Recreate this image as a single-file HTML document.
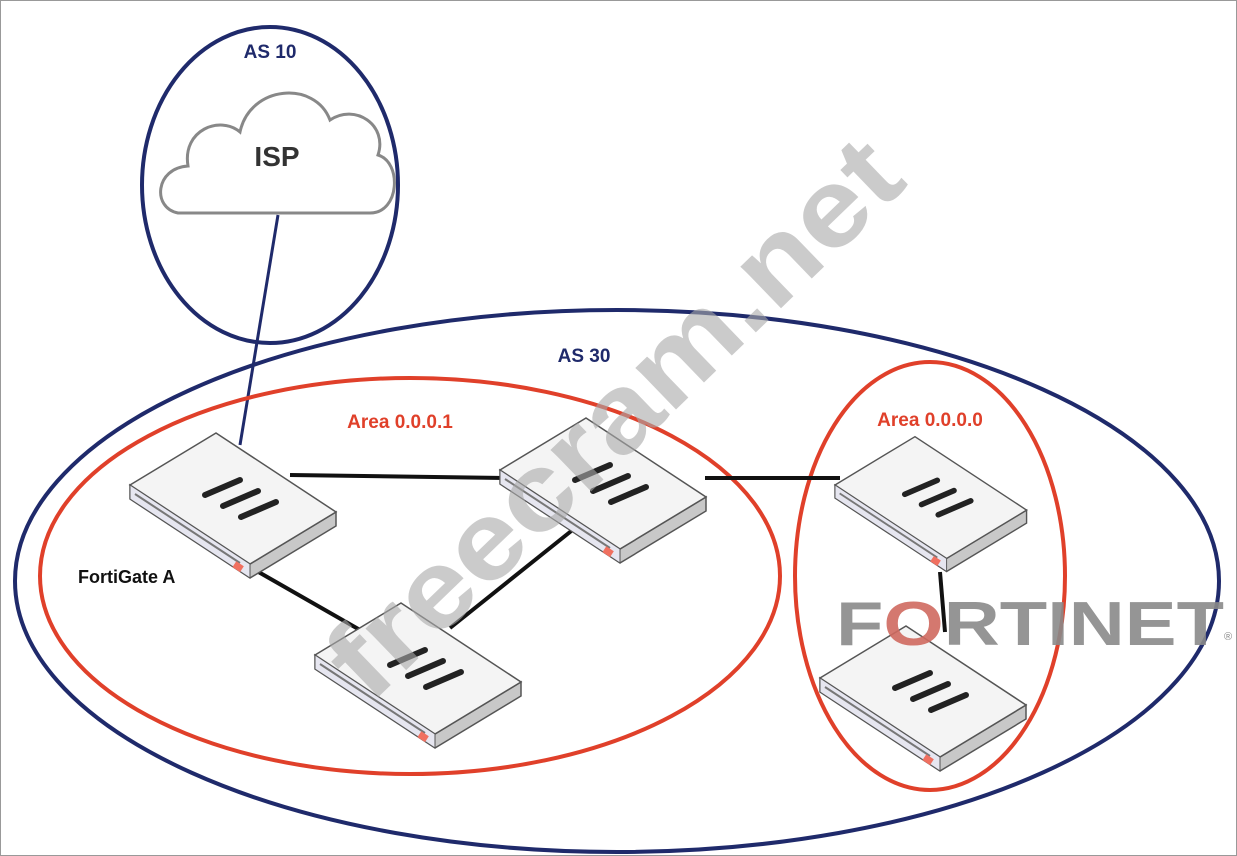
<!DOCTYPE html>
<html><head><meta charset="utf-8"><style>
html,body{margin:0;padding:0;background:#fff;}
svg{display:block;}
text{font-family:"Liberation Sans",sans-serif;}
</style></head><body>
<svg width="1237" height="856" viewBox="0 0 1237 856" xmlns="http://www.w3.org/2000/svg">
<defs>
<g id="dev">
  <polygon points="0,0 0,14 120,93 206,41 206,27 120,79" fill="#c8c8c8" stroke="#555" stroke-width="1.5"/>
  <polygon points="0,0 86,-52 206,27 120,79" fill="#f4f4f4" stroke="#555" stroke-width="1.5"/>
  <polygon points="0,0 0,14 120,93 120,79" fill="#e6e6f0" stroke="#555" stroke-width="1"/>
  <line x1="5" y1="9" x2="110" y2="78" stroke="#777" stroke-width="2"/>
  <rect x="104" y="78" width="9" height="7" fill="#f07060" transform="rotate(33 108 81)"/>
  <g stroke="#222" stroke-width="6" stroke-linecap="round">
    <line x1="75" y1="10" x2="110" y2="-5"/>
    <line x1="93" y1="21" x2="128" y2="6"/>
    <line x1="111" y1="32" x2="146" y2="17"/>
  </g>
</g>
</defs>
<rect x="0.5" y="0.5" width="1236" height="855" fill="#fff" stroke="#999"/>
<!-- AS10 -->
<ellipse cx="270" cy="185" rx="128" ry="158" fill="none" stroke="#1f2a6b" stroke-width="4"/>
<text x="270" y="58" font-size="19" font-weight="bold" fill="#1f2a6b" text-anchor="middle">AS 10</text>
<!-- cloud -->
<path d="M178,213 C152,208 155,168 188,166 C182,130 220,115 240,132 C250,85 315,80 330,120 C355,103 388,125 378,155 C402,162 400,213 370,213 Z" fill="#fff" stroke="#888" stroke-width="3"/>
<text x="277" y="166" font-size="28" font-weight="bold" fill="#333" text-anchor="middle">ISP</text>
<line x1="278" y1="215" x2="240" y2="445" stroke="#1f2a6b" stroke-width="3"/>
<!-- AS30 -->
<ellipse cx="617" cy="581" rx="602" ry="271" fill="none" stroke="#1f2a6b" stroke-width="4"/>
<text x="584" y="362" font-size="19" font-weight="bold" fill="#1f2a6b" text-anchor="middle">AS 30</text>
<!-- areas -->
<ellipse cx="410" cy="576" rx="370" ry="198" fill="none" stroke="#e0402a" stroke-width="4"/>
<text x="400" y="428" font-size="19" font-weight="bold" fill="#e0402a" text-anchor="middle">Area 0.0.0.1</text>
<ellipse cx="930" cy="576" rx="135" ry="214" fill="none" stroke="#e0402a" stroke-width="4"/>
<text x="930" y="426" font-size="19" font-weight="bold" fill="#e0402a" text-anchor="middle">Area 0.0.0.0</text>
<!-- links -->
<g stroke="#111" stroke-width="4">
<line x1="290" y1="475" x2="505" y2="478"/>
<line x1="255" y1="570" x2="360" y2="630"/>
<line x1="575" y1="528" x2="450" y2="628"/>
<line x1="705" y1="478" x2="840" y2="478"/>
<line x1="940" y1="572" x2="945" y2="632"/>
</g>
<use href="#dev" transform="translate(130,485)"/>
<use href="#dev" transform="translate(500,470)"/>
<use href="#dev" transform="translate(315,655)"/>
<use href="#dev" transform="translate(835,485) scale(0.93,0.93)"/>
<use href="#dev" transform="translate(820,678)"/>
<text x="78" y="583" font-size="18" font-weight="bold" fill="#111">FortiGate A</text>
<!-- FORTINET logo -->
<text x="836" y="645" font-size="62" font-weight="bold" fill="#8a8a8a" textLength="388" lengthAdjust="spacingAndGlyphs" opacity="0.9">F<tspan fill="#d06a60">O</tspan>RTINET</text>
<text x="1224" y="640" font-size="11" fill="#888">®</text>
<!-- watermark -->
<text x="0" y="0" font-size="110" font-weight="bold" fill="#aaa" opacity="0.6" transform="translate(370,705) rotate(-44)" textLength="750" lengthAdjust="spacingAndGlyphs">freecram.net</text>
</svg>
</body></html>
